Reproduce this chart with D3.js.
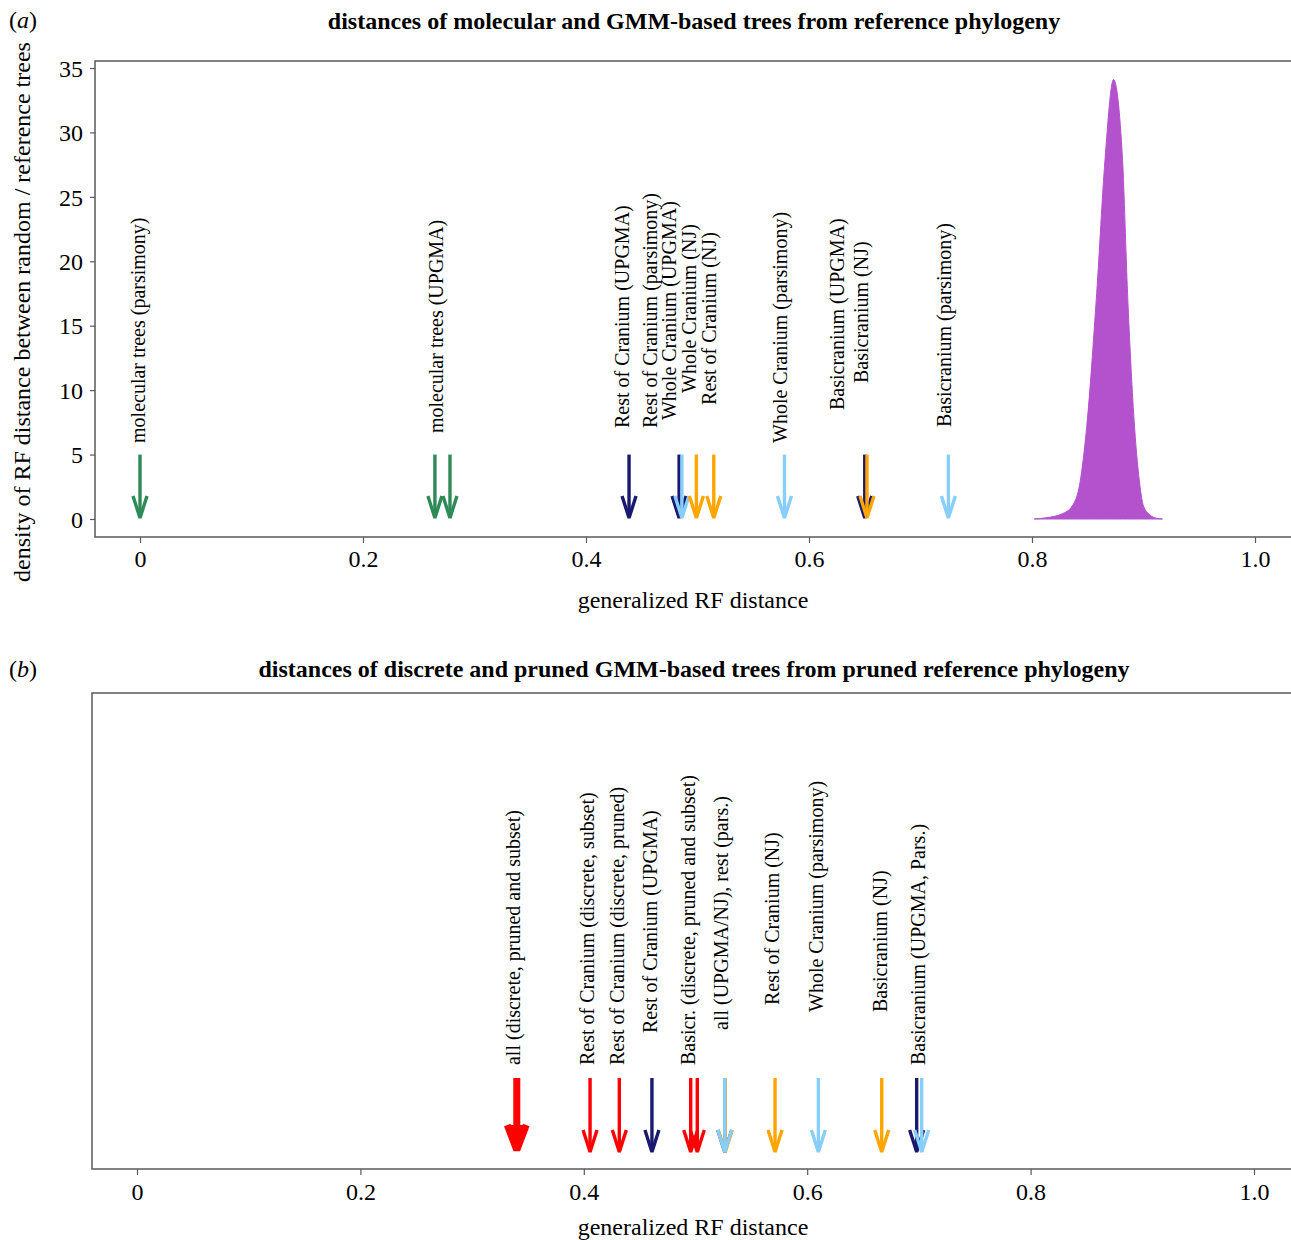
<!DOCTYPE html>
<html>
<head>
<meta charset="utf-8">
<script src="https://cdn.jsdelivr.net/npm/d3@7"></script>
<style>
  html, body { margin: 0; padding: 0; background: #fff; }
  svg { display: block; }
  text { font-family: "Liberation Serif", "Times New Roman", serif; fill: #000; }
</style>
</head>
<body>
<script>
// ---------------- DATA ----------------
const xTickValues = [0, 0.2, 0.4, 0.6, 0.8, 1.0];
const xTickLabels = ["0", "0.2", "0.4", "0.6", "0.8", "1.0"];
const yTickValues = [0, 5, 10, 15, 20, 25, 30, 35];

// Panel (a): distances of molecular and GMM-based trees
const arrowValuesA  = [0, 0.2645, 0.278, 0.4386, 0.4835, 0.486, 0.499, 0.5146, 0.578, 0.650, 0.652, 0.725];
const arrowMethodsA = ["molecular", "molecular", "molecular", "UPGMA", "UPGMA", "parsimony", "NJ", "NJ", "parsimony", "UPGMA", "NJ", "parsimony"];
const labelTextsA = [
  "molecular trees (parsimony)", "molecular trees (UPGMA)",
  "Rest of Cranium (UPGMA)", "Rest of Cranium (parsimony)", "Whole Cranium (UPGMA)",
  "Whole Cranium (NJ)", "Rest of Cranium (NJ)", "Whole Cranium (parsimony)",
  "Basicranium (UPGMA)", "Basicranium (NJ)", "Basicranium (parsimony)"
];
// label anchor positions (x in RF distance, end of text in density units)
const labelXA   = [-0.0018, 0.2654, 0.4327, 0.4578, 0.4742, 0.4922, 0.5101, 0.5737, 0.6255, 0.6463, 0.7207];
const labelEndA = [5.90, 6.67, 7.06, 7.06, 7.68, 9.78, 8.85, 5.90, 8.46, 10.55, 7.14];

// density of RF distance between random / reference trees
const densityX = [0.802, 0.813, 0.827, 0.836, 0.843, 0.849, 0.858, 0.8655, 0.8731, 0.8812, 0.8857, 0.892, 0.8965, 0.900, 0.906, 0.912, 0.917];
const densityY = [0, 0.1, 0.4, 1.0, 2.8, 7.1, 17.5, 27.9, 34.1, 27.9, 17.5, 7.1, 2.8, 1.0, 0.3, 0.05, 0];

// Panel (b): distances of discrete and pruned GMM-based trees
const arrowValuesB  = [0.340, 0.4056, 0.4318, 0.461, 0.4957, 0.5016, 0.5262, 0.5266, 0.5262, 0.5712, 0.610, 0.6667, 0.698, 0.7025];
const arrowMethodsB = ["discreteAll", "discrete", "discrete", "UPGMA", "discrete", "discrete", "UPGMA", "NJ", "parsimony", "NJ", "parsimony", "NJ", "UPGMA", "parsimony"];
const labelTextsB = [
  "all (discrete, pruned and subset)", "Rest of Cranium (discrete, subset)",
  "Rest of Cranium (discrete, pruned)", "Rest of Cranium (UPGMA)",
  "Basicr. (discrete, pruned and subset)", "all (UPGMA/NJ), rest (pars.)",
  "Rest of Cranium (NJ)", "Whole Cranium (parsimony)", "Basicranium (NJ)",
  "Basicranium (UPGMA, Pars.)"
];
const labelXB   = [0.3366, 0.4029, 0.4297, 0.4593, 0.4933, 0.5228, 0.5685, 0.6079, 0.6652, 0.6992];
const labelEndB = [1.173, 1.173, 1.173, 1.60, 1.173, 1.64, 1.973, 1.88, 1.88, 1.173];

// ---------------- STYLE ----------------
const methodColor = {
  molecular: "#2E8B57", UPGMA: "#191970", NJ: "#FFA500", parsimony: "#87CEFA",
  discrete: "#FF0000", discreteAll: "#FF0000"
};
const methodWidth = { discreteAll: 7 };
const axisColor = "#5a5a5a";
const FS = 24;        // axis text
const LFS = 20;       // arrow labels

const W = 1291, H = 1240;
const svg = d3.select("body").append("svg").attr("width", W).attr("height", H);

// ---------------- PANEL A ----------------
const xA = d3.scaleLinear().domain([0, 1]).range([140, 1255]);
const yA = d3.scaleLinear().domain([0, 35]).range([519, 68]);
const frameA = { left: 95, top: 61, bottom: 537 };

const gA = svg.append("g");
gA.append("path")
  .attr("d", `M${W + 10},${frameA.top} H${frameA.left} V${frameA.bottom} H${W + 10}`)
  .attr("fill", "none").attr("stroke", axisColor).attr("stroke-width", 1.5);

// density area
const densityData = densityX.map((x, i) => ({ x, y: densityY[i] }));
gA.append("path")
  .datum(densityData)
  .attr("fill", "#B452CD")
  .attr("stroke", "#B452CD").attr("stroke-width", 1)
  .attr("d", d3.area().x(d => xA(d.x)).y0(yA(0)).y1(d => yA(d.y)).curve(d3.curveMonotoneX));

// y axis
const yAxisA = d3.axisLeft(yA).tickValues(yTickValues).tickSize(5).tickPadding(7);
const gyA = gA.append("g").attr("transform", `translate(${frameA.left},0)`).call(yAxisA);
gyA.select(".domain").remove();
gyA.selectAll(".tick line").attr("stroke", axisColor).attr("stroke-width", 1.2);
gyA.selectAll(".tick text").style("font-size", FS + "px").attr("font-family", "Liberation Serif").attr("dy", "0.34em");

// x axis
function drawXAxis(g, x, yPos, pad) {
  const ax = d3.axisBottom(x).tickValues(xTickValues).tickFormat((d, i) => xTickLabels[i]).tickSize(6).tickPadding(pad);
  const gx = g.append("g").attr("transform", `translate(0,${yPos})`).call(ax);
  gx.select(".domain").remove();
  gx.selectAll(".tick line").attr("stroke", axisColor).attr("stroke-width", 1.2);
  gx.selectAll(".tick text").style("font-size", FS + "px").attr("font-family", "Liberation Serif");
  return gx;
}
drawXAxis(gA, xA, frameA.bottom, 7);

// arrows
function drawArrows(g, x, y, values, methods, top, headLen, headHalf) {
  values.forEach((v, i) => {
    const m = methods[i];
    const col = methodColor[m];
    const w = methodWidth[m] || 3.4;
    const hl = m === "discreteAll" ? headLen + 3 : headLen;
    const hh = m === "discreteAll" ? headHalf + 2.5 : headHalf;
    const px = x(v), y0 = y(0), y1 = y(top);
    const tip = y0 - (m === "discreteAll" ? 3 : 1);
    const a = g.append("g");
    a.append("line").attr("x1", px).attr("x2", px).attr("y1", y1).attr("y2", tip - 2)
      .attr("stroke", col).attr("stroke-width", w);
    a.append("path")
      .attr("d", `M${px - hh},${tip - hl} L${px},${tip} L${px + hh},${tip - hl}`)
      .attr("fill", m === "discreteAll" ? col : "none")
      .attr("stroke", col).attr("stroke-width", w)
      .attr("stroke-linejoin", "bevel");
  });
}
drawArrows(gA, xA, yA, arrowValuesA, arrowMethodsA, 5, 22, 7);

// labels
function drawLabels(g, x, y, texts, xs, ends) {
  texts.forEach((t, i) => {
    const px = x(xs[i]), py = y(ends[i]);
    g.append("text")
      .attr("transform", `translate(${px},${py}) rotate(-90)`)
      .attr("text-anchor", "start")
      .attr("dy", "0.35em")
      .style("font-size", LFS + "px")
      .text(t);
  });
}
drawLabels(gA, xA, yA, labelTextsA, labelXA, labelEndA);

// titles / axis labels
svg.append("text").attr("x", 9).attr("y", 28).style("font-size", FS + "px")
  .html('(<tspan font-style="italic">a</tspan>)');
svg.append("text").attr("x", 694).attr("y", 29).attr("text-anchor", "middle")
  .style("font-size", "24px").style("font-weight", "bold")
  .text("distances of molecular and GMM-based trees from reference phylogeny");
svg.append("text").attr("transform", "translate(22,312) rotate(-90)").attr("text-anchor", "middle")
  .attr("dy", "0.35em").style("font-size", FS + "px")
  .text("density of RF distance between random / reference trees");
svg.append("text").attr("x", 693).attr("y", 608).attr("text-anchor", "middle")
  .style("font-size", FS + "px").text("generalized RF distance");

// ---------------- PANEL B ----------------
const xB = d3.scaleLinear().domain([0, 1]).range([137, 1254]);
const yB = d3.scaleLinear().domain([0, 1]).range([1153, 1078]);
const frameB = { left: 92, top: 693, bottom: 1169 };
const gB = svg.append("g");
gB.append("path")
  .attr("d", `M${W + 10},${frameB.top} H${frameB.left} V${frameB.bottom} H${W + 10}`)
  .attr("fill", "none").attr("stroke", axisColor).attr("stroke-width", 1.5);
drawXAxis(gB, xB, frameB.bottom, 8);
drawArrows(gB, xB, yB, arrowValuesB, arrowMethodsB, 1, 22, 7);
drawLabels(gB, xB, yB, labelTextsB, labelXB, labelEndB);

svg.append("text").attr("x", 9).attr("y", 677).style("font-size", FS + "px")
  .html('(<tspan font-style="italic">b</tspan>)');
svg.append("text").attr("x", 694).attr("y", 677).attr("text-anchor", "middle")
  .style("font-size", "24px").style("font-weight", "bold")
  .text("distances of discrete and pruned GMM-based trees from pruned reference phylogeny");
svg.append("text").attr("x", 693).attr("y", 1235).attr("text-anchor", "middle")
  .style("font-size", FS + "px").text("generalized RF distance");
</script>
</body>
</html>
